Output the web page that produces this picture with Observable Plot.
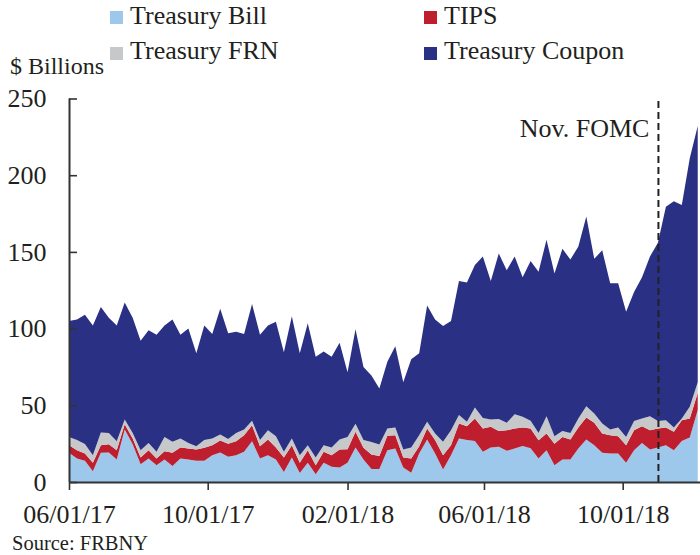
<!DOCTYPE html>
<html><head><meta charset="utf-8">
<script src="https://cdn.jsdelivr.net/npm/d3@7"></script>
<script src="https://cdn.jsdelivr.net/npm/@observablehq/plot@0.6"></script>
<style>
body{margin:0;background:#fff;}
#wrap{position:relative;width:700px;height:555px;overflow:hidden;font-family:"Liberation Serif","Times New Roman",serif;color:#231f20;}
#chart{position:absolute;left:0;top:0;}
.t{position:absolute;white-space:nowrap;}
.sw{position:absolute;width:13px;height:13px;}
</style></head><body>
<div id="wrap"><div id="chart"></div></div>
<script>
// ---- data ----
const seriesNames = ["Treasury Bill", "TIPS", "Treasury FRN", "Treasury Coupon"];
const seriesColors = ["#9dc8eb", "#be1e2d", "#c7c8ca", "#2a3185"];
const startDate = "2017-06-01"; // weekly observations
const bill = [19,15.3,13.8,7,19,19.2,14.7,34.2,24.6,11.6, 15.3,11,14.7,10.5,15.3,14.7,13.8,13.8,17.5,19.2,
  16.5,17.5,19.7,26.6,15.3,17.5,14.7,6.6,16,5.9, 12.5,5.1,12.5,9.9,9.4,12.5,22.5,14.7,8.5,8.5,
  20.7,21.8,9.4,6,18.6,27.7,18.6,8.1,17.5,28.3, 27.3,26.8,19.7,22.5,22.9,20.3,21.8,23.5,22,15.3,
  20.7,11,14.7,14.7,21.8,27.7,24,19,18.6,18.6, 12.5,20.7,25.5,21.2,22.5,24,20.7,26.8,29,47];
const tips = [5,5.4,4.8,5.5,5,5.4,6,3.5,3.7,4.4, 5.4,4.3,5.3,8.5,7.2,7.1,7.4,8.5,6.5,7.8,
  8.5,9,10.8,10.4,8,10.2,7.8,9.4,8,6.6, 8.2,5.9,7.2,7.6,11.8,8.9,10.2,7.6,9.5,8.5,
  9.4,8.7,6.6,9.3,4.7,7.2,8.7,9.4,6.5,9.8, 9.1,14.6,15.2,13.5,10.4,13.5,13.1,12,12.8,11.9,
  10.9,14,14.7,13,13.7,14.3,14.6,12.6,11.9,11.3, 11.5,13.1,10.9,12.6,12.4,11.5,12,13.4,12.4,11];
const frn = [5.4,6.6,6.1,5,8.3,7.4,5.9,3,3.7,4.7, 4.8,4.4,9.4,7.2,5.8,3.7,2.1,5,4.3,4,
  3,5.5,3.7,3,4,6.1,7.4,3.7,4.3,5, 3.3,5,4.3,5,6.5,8,5.3,5,8,7.5,
  4.8,5,5.2,7.2,7.2,4.3,4.3,8.7,9.8,5.5, 2.8,7.2,6.9,4.7,7.7,4.8,9.3,7,5.2,4.8,
  11.3,4.9,3.9,4.3,5.9,7.4,6,6.5,3.7,5.6, 5.4,6,5,9.1,4.9,4.7,2.8,1.2,7.6,7];
const coupon = [75.6,78.7,84.3,84.5,81.7,75,75.4,76.3,75,71.3, 73.5,76.3,72.6,79.8,67.7,74.5,60.7,74.7,68.2,82,
  69,66,62.3,76,68.7,68.2,74.6,64.9,79.7,66.5, 79.5,65.6,61,59.1,63,42.2,61.6,47.7,43.5,36.5,
  43.5,53,43.8,57.5,53.5,75.8,74.4,75.5,71.2,87.4, 90.8,92.9,105.2,90.3,108,99.4,102.8,91,104,105,
  115.1,106.1,118.7,113,112.1,123.6,100.9,112.9,95.4,94.1, 81.6,84,92.1,104.1,116.2,139.2,147.5,139.1,162,167];
const xTicks = ["2017-06-01", "2017-10-01", "2018-02-01", "2018-06-01", "2018-10-01"];
const yTicks = [0, 50, 100, 150, 200, 250];
const fomcDate = "2018-11-01";
const fomcLabel = "Nov. FOMC";
const yUnit = "$ Billions";
const source = "Source: FRBNY";

// ---- build ----
const values = [bill, tips, frn, coupon];
const t0 = new Date(startDate);
const dates = bill.map((_, i) => d3.utcDay.offset(t0, 7 * i));
const rows = seriesNames.flatMap((s, k) => values[k].map((v, i) => ({date: dates[i], series: s, value: v})));
const fomc = new Date(fomcDate);
const font = '"Liberation Serif","Times New Roman",serif';
const W = 700, ML = 69, MR = 0;

const plot = Plot.plot({
  width: W, height: 555,
  marginLeft: ML, marginRight: MR, marginTop: 98.5, marginBottom: 73,
  style: {fontFamily: font, fontSize: "26px", color: "#231f20", background: "transparent"},
  x: {type: "utc", domain: [t0, new Date("2018-12-08")], label: null},
  y: {domain: [0, 250], label: null},
  color: {domain: seriesNames, range: seriesColors},
  marks: [
    Plot.areaY(rows, {x: "date", y: "value", z: "series", fill: "series", order: seriesNames, curve: "linear"}),
    Plot.ruleX([fomc], {y1: 0, y2: 250, stroke: "#222", strokeWidth: 2, strokeDasharray: "7,4"}),
    Plot.text([fomcLabel], {x: () => fomc, frameAnchor: "top", dy: 20, dx: -9, textAnchor: "end", fontSize: 26, fill: "#231f20"}),
    Plot.tickY(yTicks, {y: d => d, insetRight: W - ML - MR - 8, stroke: "#333", strokeWidth: 1.6}),
    Plot.axisY({ticks: yTicks, tickSize: 0, tickPadding: 23, label: null}),
    Plot.axisX({ticks: xTicks.map(d => new Date(d)), tickFormat: d3.utcFormat("%m/%d/%y"), tickSize: 8, tickPadding: 14, label: null, stroke: "#333", strokeWidth: 1.6}),
    Plot.ruleY([0], {stroke: "#333", strokeWidth: 2}),
    Plot.ruleX([t0], {y1: 0, y2: 250, stroke: "#333", strokeWidth: 2})
  ]
});
document.getElementById("chart").appendChild(plot);

// ---- legend & texts (HTML) ----
const wrap = document.getElementById("wrap");
function addText(txt, left, top, size, lh) {
  const d = document.createElement("div");
  d.className = "t"; d.textContent = txt;
  d.style.left = left + "px"; d.style.top = top + "px";
  d.style.fontSize = size + "px"; d.style.lineHeight = (lh || size) + "px";
  wrap.appendChild(d);
}
function addSwatch(color, left, top) {
  const d = document.createElement("div");
  d.className = "sw"; d.style.background = color;
  d.style.left = left + "px"; d.style.top = top + "px";
  wrap.appendChild(d);
}
const legendPos = [[110, 11, 3.2], [424, 11, 3.2], [110, 46.5, 38.2], [424, 46.5, 38.2]];
const legendOrder = [0, 1, 2, 3];
legendOrder.forEach((k, j) => {
  const [lx, sy, ty] = legendPos[j];
  addSwatch(seriesColors[k], lx, sy);
  addText(seriesNames[k], lx + 20, ty, 26);
});
addText(yUnit, 10, 54, 24);
addText(source, 12, 533.5, 20.5, 18);
</script>
</body></html>
